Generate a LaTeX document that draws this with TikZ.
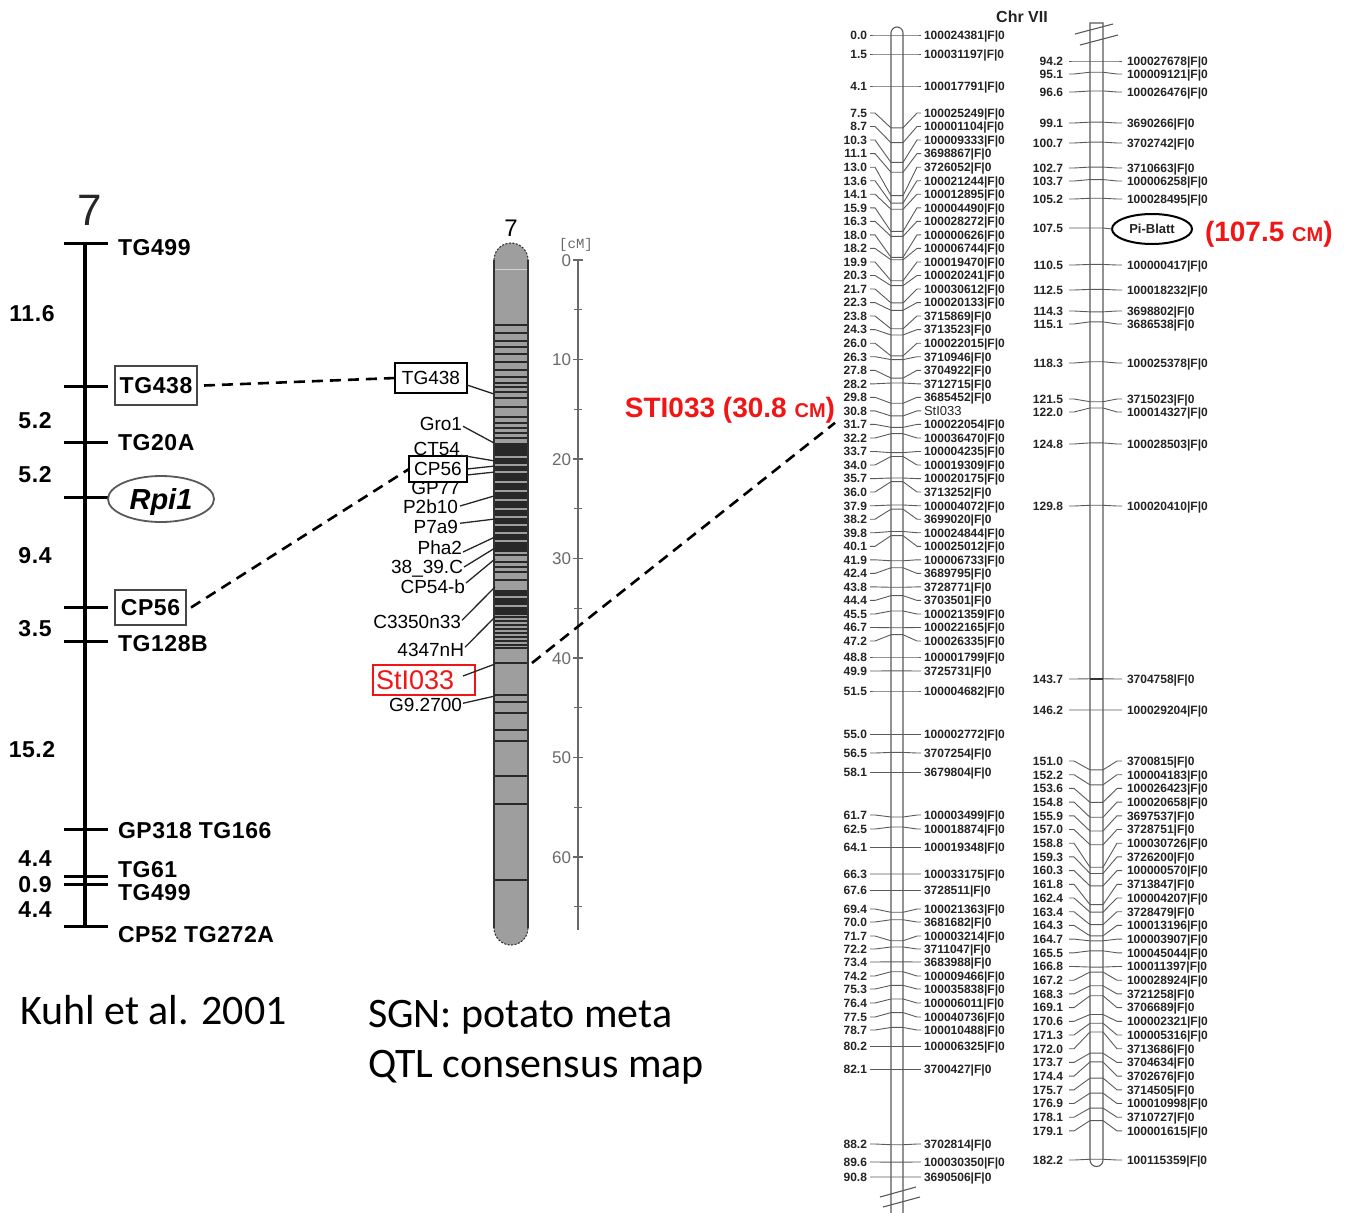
\documentclass[tikz,border=0pt]{standalone}
\usepackage{fontspec}
\setmainfont{Liberation Sans}
\newfontfamily\calibfont{Carlito}
\newfontfamily\cmmono{Liberation Mono}
\newfontfamily\kboldfont[LetterSpace=2.5]{Liberation Sans}
\usetikzlibrary{shapes.geometric}
\definecolor{chromgray}{RGB}{158,158,158}
\definecolor{banddark}{RGB}{40,40,40}
\definecolor{scalegray}{RGB}{105,105,105}
\definecolor{mapink}{RGB}{35,35,35}
\definecolor{leadgray}{RGB}{90,90,90}
\definecolor{hlred}{RGB}{240,22,22}
\newcommand\lpos[1]{\pgfmathsetmacro\cy{#1<1.5 ? 35+#1*12.667 : (#1<4.1 ? 54+(#1-1.5)*12.31 : (#1<28.2 ? 86+(#1-4.1)*12.324 : (#1<35.7 ? 383+(#1-28.2)*12.667 : (#1<37.9 ? 478+(#1-35.7)*12.27 : (#1<48.8 ? 505+(#1-37.9)*13.945 : (#1<51.5 ? 657+(#1-48.8)*12.593 : (#1<55 ? 691+(#1-51.5)*12.286 : (#1<58.1 ? 734+(#1-55)*12.258 : (#1<64.1 ? 772+(#1-58.1)*12.5 : (#1<67.6 ? 847+(#1-64.1)*12.286 : (#1<80.2 ? 890+(#1-67.6)*12.381 : (#1<82.1 ? 1046+(#1-80.2)*12.105 : 1069+(#1-82.1)*12.414))))))))))))}}
\begin{document}
\begin{tikzpicture}[x=1pt,y=-1pt,
  every node/.style={inner sep=0pt,outer sep=0pt},
  kfont/.style={font=\kboldfont\fontsize{23}{25}\selectfont\bfseries},
  kname/.style={kfont,anchor=base west,yshift=-8.2pt},
  kdist/.style={kfont,anchor=base,yshift=-8.2pt},
  ktick/.style={line width=3pt},
  kbox/.style={kfont,draw=black!72,line width=1.8pt,text height=16.4pt,text depth=0pt},
  dashlink/.style={line width=2.6pt,dash pattern=on 11pt off 7pt},
  mfont/.style={font=\fontsize{19}{21}\selectfont},
  mlabel/.style={mfont,anchor=base east,yshift=-6.8pt},
  mlead/.style={line width=1.3pt,black!85},
  mbox/.style={mfont,draw,line width=2pt,fill=white,text height=13.6pt,text depth=0pt},
  band/.style={line width=1.3pt,banddark},
  lightband/.style={line width=2pt,chromgray},
  scalelab/.style={font=\fontsize{17}{19}\selectfont,text=scalegray,anchor=base east,yshift=-6.1pt},
  mapnum/.style={font=\fontsize{12}{13}\selectfont\bfseries,text=mapink,anchor=base east,yshift=-4.3pt},
  mapname/.style={font=\fontsize{12}{13}\selectfont\bfseries,text=mapink,anchor=base west,yshift=-4.3pt},
  maplead/.style={line width=0.9pt,leadgray},
  chromline/.style={line width=1.1pt,black!65},
  redlab/.style={font=\fontsize{28}{30}\selectfont\bfseries,text=hlred},
  bigtext/.style={font=\calibfont\fontsize{42}{50}\selectfont,anchor=base west}
]
\useasboundingbox (0,0) rectangle (1355,1213);

% ================= Left map (Kuhl et al.) =================
\node[font=\fontsize{44}{48}\selectfont,text=black!85] (k7) at (90,210) {7};
\draw[line width=4pt] (85,243) -- (85,926);
\foreach \yy in {243,386,442,497,607,641,829,876,884,926}
  \draw[ktick] (64,\yy) -- (108,\yy);
\node[kname] (kTGa) at (118,247) {TG499};
\node[kbox,minimum width=82pt,minimum height=39pt] (kTG438) at (156,385.5) {TG438};
\node[kname] (kTG20A) at (118,442) {TG20A};
\node[ellipse,draw=black!65,line width=1.8pt,minimum width=106pt,minimum height=46pt,
      font=\fontsize{29}{31}\selectfont\bfseries\itshape,text height=21pt,text depth=0pt] (kRpi1) at (161,499) {Rpi1};
\node[kbox,minimum width=71pt,minimum height=35pt] (kCP56) at (150.5,607.5) {CP56};
\node[kname] (kTG128B) at (118,643) {TG128B};
\node[kname] (kGP318) at (118,830) {GP318 TG166};
\node[kname] (kTG61) at (118,869.5) {TG61};
\node[kname] (kTGb) at (118,892.5) {TG499};
\node[kname] (kCP52) at (118,934) {CP52 TG272A};
\node[kdist] (kd1) at (32,313) {11.6};
\node[kdist] (kd2) at (35,420) {5.2};
\node[kdist] (kd3) at (35,474) {5.2};
\node[kdist] (kd4) at (35,555) {9.4};
\node[kdist] (kd5) at (35,628) {3.5};
\node[kdist] (kd6) at (32,749) {15.2};
\node[kdist] (kd7) at (35,858) {4.4};
\node[kdist] (kd8) at (35,884) {0.9};
\node[kdist] (kd9) at (35,909) {4.4};
\node[bigtext] (kuhl) at (20,1024) {Kuhl et al. 2001};

% ================= Middle chromosome (SGN) =================
\node[font=\fontsize{24}{26}\selectfont] (m7) at (511,228) {7};
\fill[chromgray] (494,260) arc[start angle=180,end angle=360,radius=17] -- (528,928)
   arc[start angle=0,end angle=180,radius=17] -- cycle;
\draw[line width=0.8pt,white!55!chromgray] (494.5,269) -- (527.5,269);
\foreach \yy in {325,333,341,347,354,362,370,377,383,387,392,398,407,417,423,428,433,438,
                 555,562,567,572,580,617,621,625,629,633,637,641,645,648,663,695,702,713,730,741,776,804,880}
  \draw[band] (494.5,\yy) -- (527.5,\yy);
\fill[banddark] (494.5,443) rectangle (527.5,552);
\foreach \yy in {457,465,472,482,491,500,509,517,525,533,541}
  \draw[lightband] (494.5,\yy) -- (527.5,\yy);
\fill[banddark] (494.5,590) rectangle (527.5,615);
\foreach \yy in {597,606}
  \draw[lightband] (494.5,\yy) -- (527.5,\yy);
\draw[line width=1.3pt,black!80] (494,260) -- (494,928) (528,260) -- (528,928);
\draw[line width=1.1pt,black!80,dash pattern=on 2pt off 1.5pt]
  (494,260) arc[start angle=180,end angle=360,radius=17]
  (528,928) arc[start angle=0,end angle=180,radius=17];
% scale
\draw[scalegray,line width=1.2pt] (578,260) -- (578,930);
\foreach \k in {0,...,6}{
  \pgfmathsetmacro\yy{260+99.5*\k}
  \pgfmathtruncatemacro\lab{\k*10}
  \draw[scalegray,line width=1.2pt] (573,\yy) -- (583,\yy);
  \node[scalelab] (s\k) at (571,\yy) {\lab};
}
\foreach \k in {0,...,6}{
  \pgfmathsetmacro\yy{309.75+99.5*\k}
  \draw[scalegray,line width=1.2pt] (574,\yy) -- (582,\yy);
}
\node[font=\cmmono\fontsize{14}{15}\selectfont,text=scalegray] (cmunit) at (576,245) {[cM]};
% markers
\node[mbox,minimum width=72pt,minimum height=30pt] (mTG438) at (431,378) {TG438};
\draw[mlead] ([yshift=-7pt]mTG438.east) -- (494,394);
\node[mlabel] (mGro1) at (462,424) {Gro1};
\draw[mlead] ([xshift=1pt,yshift=-2pt]mGro1.east) -- (494,443);
\node[mlabel] (mCT54) at (460,449) {CT54};
\node[mlabel] (mGP77) at (460,488) {GP77};
\node[mbox,minimum width=58pt,minimum height=26pt] (mCP56) at (438,469) {CP56};
\draw[mlead] ([xshift=1pt,yshift=-6pt]mCT54.east) -- (495,461);
\draw[mlead] (mCP56.east) -- (495,466);
\draw[mlead] ([yshift=-6pt]mCP56.east) -- (495,472);
\node[mlabel] (mP2b10) at (458,507) {P2b10};
\draw[mlead] ([xshift=2pt,yshift=1pt]mP2b10.east) -- (494,496);
\node[mlabel] (mP7a9) at (458,527) {P7a9};
\draw[mlead] ([xshift=2pt,yshift=4pt]mP7a9.east) -- (495,519);
\node[mlabel] (mPha2) at (462,548) {Pha2};
\draw[mlead] ([xshift=1pt,yshift=-4pt]mPha2.east) -- (495,537);
\node[mlabel] (m3839) at (463,567) {38\_39.C};
\draw[mlead] ([xshift=1pt,yshift=2pt]m3839.east) -- (495,548);
\node[mlabel] (mCP54b) at (465,587) {CP54-b};
\draw[mlead] ([xshift=1pt,yshift=4pt]mCP54b.east) -- (495,559);
\node[mlabel] (mC3350) at (461,622) {C3350n33};
\draw[mlead] ([xshift=1pt,yshift=2pt]mC3350.east) -- (495,587);
\node[mlabel] (m4347) at (464,650) {4347nH};
\draw[mlead] ([xshift=1pt,yshift=3pt]m4347.east) -- (495,617);
\node[draw=hlred,line width=2.2pt,fill=white,minimum height=30pt,text width=96pt,inner xsep=3pt,
      align=left,font=\fontsize{27}{29}\selectfont,text=hlred,text height=19.4pt,text depth=0pt] (mSTI) at (424,680) {StI033};
\draw[mlead] ([xshift=-12pt,yshift=4pt]mSTI.east) -- (495,664);
\node[mlabel] (mG9) at (462,705) {G9.2700};
\draw[mlead] ([xshift=1pt,yshift=2pt]mG9.east) -- (495,696);
\node[bigtext] (sgn1) at (368,1027) {SGN: potato meta};
\node[bigtext] (sgn2) at (368,1077) {QTL consensus map};

% dashed links
\draw[dashlink] ([xshift=7pt]kTG438.east) -- (mTG438.west);
\draw[dashlink] ([xshift=5pt]kCP56.east) -- (mCP56.west);
\node[redlab,anchor=base east] (rsti) at (835,417) {STI033 (30.8 {\fontsize{20}{22}\selectfont CM})};
\coordinate (midsti) at (532,663);
\draw[dashlink] (midsti) -- (rsti.south east);

% ================= Right genetic map (Chr VII) =================
\node[font=\fontsize{16}{17}\selectfont\bfseries,text=mapink] (chr) at (1022,17) {Chr VII};
\draw[chromline] (891,1213) -- (891,33) arc[start angle=180,end angle=360,radius=6] -- (903,1213);
\draw[chromline] (880,1197) -- (916,1187) (883,1207) -- (920,1197);
\draw[chromline] (1103,1160) -- (1103,23) -- (1090,23) -- (1090,1160) arc[start angle=180,end angle=0,radius=6.5];
\draw[chromline] (1075,34) -- (1113,24) (1080,45) -- (1118,35);

\foreach \pc/\py/\pn [count=\i] in {
0.0/35/100024381|F|0, 1.5/54/100031197|F|0, 4.1/86/100017791|F|0,
7.5/113/100025249|F|0, 8.7/126.5/100001104|F|0, 10.3/140/100009333|F|0,
11.1/153.6/3698867|F|0, 13.0/167.2/3726052|F|0, 13.6/180.7/100021244|F|0,
14.1/194.2/100012895|F|0, 15.9/207.8/100004490|F|0, 16.3/221.3/100028272|F|0,
18.0/234.9/100000626|F|0, 18.2/248.4/100006744|F|0, 19.9/262/100019470|F|0,
20.3/275.5/100020241|F|0, 21.7/289/100030612|F|0, 22.3/302.6/100020133|F|0,
23.8/316/3715869|F|0, 24.3/329.6/3713523|F|0, 26.0/343.2/100022015|F|0,
26.3/356.7/3710946|F|0, 27.8/370.3/3704922|F|0, 28.2/383.8/3712715|F|0,
29.8/397.3/3685452|F|0, 30.8/410.9/{\mdseries\fontsize{13}{14}\selectfont StI033},
31.7/424.4/100022054|F|0, 32.2/438/100036470|F|0, 33.7/451.5/100004235|F|0,
34.0/465/100019309|F|0, 35.7/478.6/100020175|F|0, 36.0/492/3713252|F|0,
37.9/505.7/100004072|F|0, 38.2/519.2/3699020|F|0, 39.8/532.7/100024844|F|0,
40.1/546.3/100025012|F|0, 41.9/559.8/100006733|F|0, 42.4/573.4/3689795|F|0,
43.8/586.9/3728771|F|0, 44.4/600.4/3703501|F|0, 45.5/614/100021359|F|0,
46.7/627.5/100022165|F|0, 47.2/641/100026335|F|0, 48.8/657/100001799|F|0,
49.9/671/3725731|F|0, 51.5/691/100004682|F|0, 55.0/734/100002772|F|0,
56.5/753/3707254|F|0, 58.1/772/3679804|F|0, 61.7/815/100003499|F|0,
62.5/829/100018874|F|0, 64.1/847/100019348|F|0, 66.3/874/100033175|F|0,
67.6/890/3728511|F|0, 69.4/909/100021363|F|0, 70.0/922/3681682|F|0,
71.7/936/100003214|F|0, 72.2/949/3711047|F|0, 73.4/962/3683988|F|0,
74.2/976/100009466|F|0, 75.3/989/100035838|F|0, 76.4/1003/100006011|F|0,
77.5/1017/100040736|F|0, 78.7/1030/100010488|F|0, 80.2/1046/100006325|F|0,
82.1/1069/3700427|F|0, 88.2/1144/3702814|F|0, 89.6/1162/100030350|F|0,
90.8/1177/3690506|F|0}{
  \lpos{\pc}
  \node[mapnum] (lv\i) at (867,\py) {\pc};
  \node[mapname] (ln\i) at (924,\py) {\pn};
  \draw[maplead] (870,\py) -- (875,\py) -- (891,\cy) -- (903,\cy) -- (917,\py) -- (921,\py);
}

\foreach \pc/\py/\pn [count=\i] in {
94.2/61/100027678|F|0, 95.1/74/100009121|F|0, 96.6/92/100026476|F|0,
99.1/123/3690266|F|0, 100.7/143/3702742|F|0, 102.7/168/3710663|F|0,
103.7/181/100006258|F|0, 105.2/199/100028495|F|0, 110.5/265/100000417|F|0,
112.5/290/100018232|F|0, 114.3/311/3698802|F|0, 115.1/324/3686538|F|0,
118.3/363/100025378|F|0, 121.5/399/3715023|F|0, 122.0/412/100014327|F|0,
124.8/444/100028503|F|0, 129.8/506/100020410|F|0, 143.7/679/3704758|F|0,
146.2/710/100029204|F|0,
151.0/761/3700815|F|0, 152.2/774.7/100004183|F|0, 153.6/788.4/100026423|F|0,
154.8/802.1/100020658|F|0, 155.9/815.8/3697537|F|0, 157.0/829.5/3728751|F|0,
158.8/843.2/100030726|F|0, 159.3/856.9/3726200|F|0, 160.3/870.6/100000570|F|0,
161.8/884.3/3713847|F|0, 162.4/898/100004207|F|0, 163.4/911.7/3728479|F|0,
164.3/925.4/100013196|F|0, 164.7/939.1/100003907|F|0, 165.5/952.8/100045044|F|0,
166.8/966.5/100011397|F|0, 167.2/980.2/100028924|F|0, 168.3/993.9/3721258|F|0,
169.1/1007.6/3706689|F|0, 170.6/1021.3/100002321|F|0, 171.3/1035/100005316|F|0,
172.0/1048.7/3713686|F|0, 173.7/1062.4/3704634|F|0, 174.4/1076.1/3702676|F|0,
175.7/1089.8/3714505|F|0, 176.9/1103.5/100010998|F|0, 178.1/1117.2/3710727|F|0,
179.1/1130.9/100001615|F|0, 182.2/1160/100115359|F|0}{
  \pgfmathsetmacro\cy{61+(\pc-94.2)*12.48}
  \node[mapnum] (rv\i) at (1063,\py) {\pc};
  \node[mapname] (rn\i) at (1127,\py) {\pn};
  \draw[maplead] (1069,\py) -- (1074,\py) -- (1090,\cy) -- (1103,\cy) -- (1117,\py) -- (1122,\py);
}
\draw[line width=2pt,black!80] (1090,679) -- (1103,679);
\node[mapnum] (rvpi) at (1063,228) {107.5};
\node[ellipse,draw,line width=2pt,minimum width=80pt,minimum height=30pt,
      font=\fontsize{13}{14}\selectfont\bfseries,text=mapink] (piblatt) at (1152,229) {Pi-Blatt};
\draw[maplead] (1069,228) -- (1090,228) -- (1103,228) -- (piblatt.west);
\node[redlab,anchor=base west] (pilab) at (1205,241) {(107.5 {\fontsize{20}{22}\selectfont CM})};
\end{tikzpicture}
\end{document}
